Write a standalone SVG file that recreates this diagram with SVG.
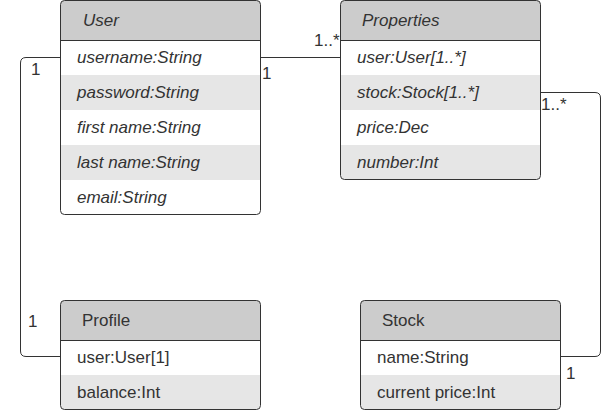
<svg xmlns="http://www.w3.org/2000/svg" width="601" height="410" viewBox="0 0 601 410">
<style>
text{font-family:"Liberation Sans",Arial,sans-serif;font-size:17px;fill:#333}
.it{font-style:italic}
.hd{fill:#cccccc}
.alt{fill:#e6e6e6}
.body{fill:#ffffff}
.ol{fill:none;stroke:#333;stroke-width:1}
.sep{stroke:#333;stroke-width:1}
.con{fill:none;stroke:#333;stroke-width:1}
</style>
<rect width="601" height="410" fill="#ffffff"/>
<g id="connectors">
<path class="con" d="M60.5,57.5 H26 Q20.5,57.5 20.5,63 V351 Q20.5,356.5 26,356.5 H60.5"/>
<path class="con" d="M260.5,57.5 H340.5"/>
<path class="con" d="M540.5,92.5 H595 Q600.5,92.5 600.5,98 V351 Q600.5,356.5 595,356.5 H560.5"/>
<text x="31" y="75">1</text>
<text x="28" y="327">1</text>
<text x="262" y="79">1</text>
<text x="314" y="46">1..*</text>
<text x="541" y="110">1..*</text>
<text x="566" y="379">1</text>
</g>
<g id="User">
<rect class="body" x="60.5" y="0.5" width="200" height="214" rx="4"/>
<path class="hd" d="M60.5,40.5 V4.5 Q60.5,0.5 64.5,0.5 H256.5 Q260.5,0.5 260.5,4.5 V40.5 Z"/>
<rect class="alt" x="61" y="75" width="199" height="35"/>
<rect class="alt" x="61" y="145" width="199" height="35"/>
<line class="sep" x1="60.5" y1="40.5" x2="260.5" y2="40.5"/>
<rect class="ol" x="60.5" y="0.5" width="200" height="214" rx="4"/>
<text class="it" x="83" y="26">User</text>
<text class="it" x="77" y="63">username:String</text>
<text class="it" x="77" y="98">password:String</text>
<text class="it" x="77" y="133">first name:String</text>
<text class="it" x="77" y="168">last name:String</text>
<text class="it" x="77" y="203">email:String</text>
</g>
<g id="Properties">
<rect class="body" x="340.5" y="0.5" width="200" height="179" rx="4"/>
<path class="hd" d="M340.5,40.5 V4.5 Q340.5,0.5 344.5,0.5 H536.5 Q540.5,0.5 540.5,4.5 V40.5 Z"/>
<rect class="alt" x="341" y="75" width="199" height="35"/>
<path class="alt" d="M341,145 H540 V175.5 Q540,179.5 536,179.5 H345 Q341,179.5 341,175.5 Z"/>
<line class="sep" x1="340.5" y1="40.5" x2="540.5" y2="40.5"/>
<rect class="ol" x="340.5" y="0.5" width="200" height="179" rx="4"/>
<text class="it" x="362" y="26">Properties</text>
<text class="it" x="357" y="63">user:User[1..*]</text>
<text class="it" x="357" y="98">stock:Stock[1..*]</text>
<text class="it" x="357" y="133">price:Dec</text>
<text class="it" x="357" y="168">number:Int</text>
</g>
<g id="Profile">
<rect class="body" x="60.5" y="300.5" width="200" height="109" rx="4"/>
<path class="hd" d="M60.5,340.5 V304.5 Q60.5,300.5 64.5,300.5 H256.5 Q260.5,300.5 260.5,304.5 V340.5 Z"/>
<path class="alt" d="M61,375 H260 V405.5 Q260,409.5 256,409.5 H65 Q61,409.5 61,405.5 Z"/>
<line class="sep" x1="60.5" y1="340.5" x2="260.5" y2="340.5"/>
<rect class="ol" x="60.5" y="300.5" width="200" height="109" rx="4"/>
<text x="82" y="326">Profile</text>
<text x="77" y="363">user:User[1]</text>
<text x="77" y="398">balance:Int</text>
</g>
<g id="Stock">
<rect class="body" x="360.5" y="300.5" width="200" height="109" rx="4"/>
<path class="hd" d="M360.5,340.5 V304.5 Q360.5,300.5 364.5,300.5 H556.5 Q560.5,300.5 560.5,304.5 V340.5 Z"/>
<path class="alt" d="M361,375 H560 V405.5 Q560,409.5 556,409.5 H365 Q361,409.5 361,405.5 Z"/>
<line class="sep" x1="360.5" y1="340.5" x2="560.5" y2="340.5"/>
<rect class="ol" x="360.5" y="300.5" width="200" height="109" rx="4"/>
<text x="382" y="326">Stock</text>
<text x="377" y="363">name:String</text>
<text x="377" y="398">current price:Int</text>
</g>
</svg>
